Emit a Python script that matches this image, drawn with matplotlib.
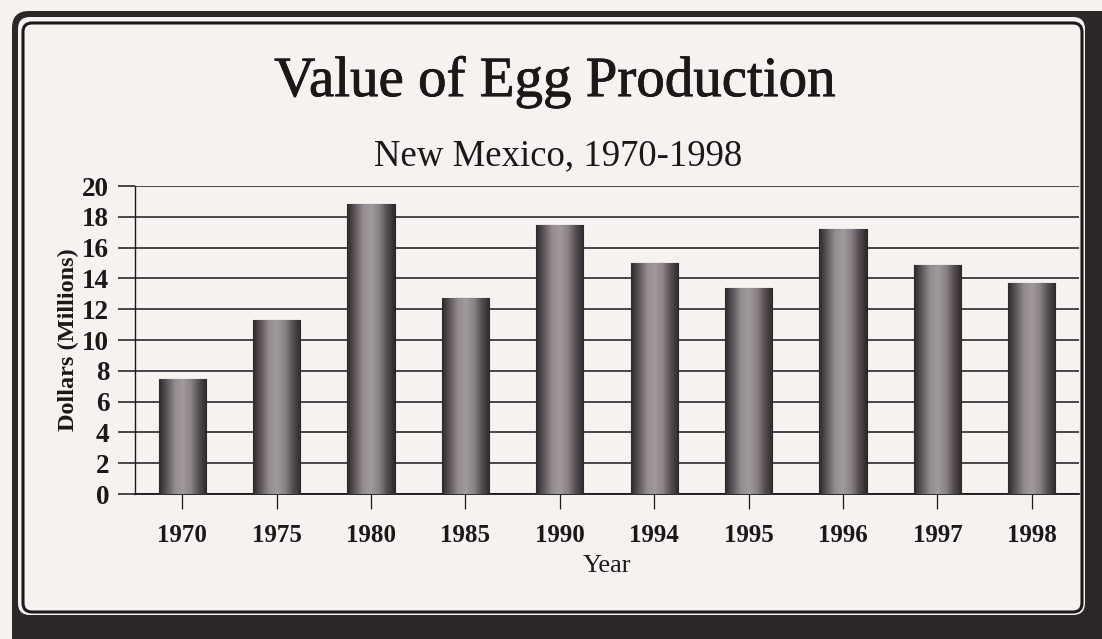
import numpy as np
import matplotlib.pyplot as plt
from matplotlib.patches import FancyBboxPatch
from matplotlib.colors import LinearSegmentedColormap
import matplotlib.patheffects as pe

years = ['1970', '1975', '1980', '1985', '1990', '1994', '1995', '1996', '1997', '1998']
values = [7.45, 11.3, 18.85, 12.75, 17.45, 15.0, 13.4, 17.2, 14.9, 13.7]
yticks = [0, 2, 4, 6, 8, 10, 12, 14, 16, 18, 20]

paper = '#f5f2f0'
ink = '#1c1818'
dark = '#2c2828'
serif = ['Liberation Serif', 'DejaVu Serif']
thick = [pe.withStroke(linewidth=0.6, foreground=ink)]

W, H = 1102, 639
fig = plt.figure(figsize=(W / 100, H / 100), dpi=100)
fig.patch.set_facecolor(paper)

# frame drawn in pixel coordinates
bg = fig.add_axes([0, 0, 1, 1])
bg.set_xlim(0, W)
bg.set_ylim(H, 0)
bg.axis('off')

def rbox(x0, y0, x1, y1, r, **kw):
    p = FancyBboxPatch((x0 + r, y0 + r), x1 - x0 - 2 * r, y1 - y0 - 2 * r,
                       boxstyle='round,pad=%g' % r, **kw)
    bg.add_patch(p)
    return p

rbox(12, 11, 1130, 680, 17, facecolor=dark, edgecolor='none')
rbox(18, 17, 1085, 615, 12, facecolor=paper, edgecolor='none')
rbox(23, 23, 1082, 612, 9, facecolor=paper, edgecolor=ink, linewidth=2.2)

ax = fig.add_axes([135 / W, 1 - 494 / H, (1079 - 135) / W, 308 / H])
ax.set_facecolor('none')

x = np.arange(len(years))
bars = ax.bar(x, values, width=0.5, color='#807879', edgecolor='#2a2426',
              linewidth=0.8, zorder=3)

cmap = LinearSegmentedColormap.from_list(
    'cyl', ['#2e282b', '#5f575b', '#938b8f', '#a19a9d', '#8a8286', '#564e52', '#2e282b'])
grad = np.linspace(0, 1, 200).reshape(1, -1)
for b in bars:
    x0, w, h = b.get_x(), b.get_width(), b.get_height()
    im = ax.imshow(grad, cmap=cmap, extent=[x0, x0 + w, 0, h], aspect='auto',
                   interpolation='bilinear', zorder=3.5)
    im.set_clip_path(b)

ax.set_xlim(-0.5, len(years) - 0.5)
ax.set_ylim(0, 20)
ax.set_yticks(yticks)
ax.set_xticks(x)
ax.set_xticklabels(years)
ax.grid(axis='y', color=ink, linewidth=1.1, zorder=1)
ax.set_axisbelow(True)
for s in ['top', 'right']:
    ax.spines[s].set_visible(False)
ax.spines['left'].set_color(ink)
ax.spines['bottom'].set_color(ink)
ax.spines['left'].set_linewidth(1.0)
ax.spines['bottom'].set_linewidth(1.3)
ax.tick_params(axis='y', length=12.5, width=1.1, color=ink, pad=6)
ax.tick_params(axis='x', length=10.5, width=0.9, color=ink, pad=11)
for t in ax.get_xticklabels():
    t.set_fontfamily(serif)
    t.set_fontweight('bold')
    t.set_fontsize(18)
    t.set_color(ink)
for t in ax.get_yticklabels():
    t.set_fontfamily(serif)
    t.set_fontweight('bold')
    t.set_fontsize(19.5)
    t.set_color(ink)

ax.set_xlabel('Year', fontfamily=serif, fontsize=19, color=ink, labelpad=6)
ax.set_ylabel('Dollars (Millions)', fontfamily=serif, fontsize=17.5,
              fontweight='bold', color=ink, labelpad=2)

fig.text(555 / W, 1 - 82 / H, 'Value of Egg Production', fontfamily=serif,
         fontsize=41, color=ink, ha='center', va='center', path_effects=thick)
fig.text(558 / W, 1 - 156 / H, 'New Mexico, 1970-1998', fontfamily=serif,
         fontsize=26.5, color=ink, ha='center', va='center')

fig.savefig('out.png', dpi=100, facecolor=paper)
